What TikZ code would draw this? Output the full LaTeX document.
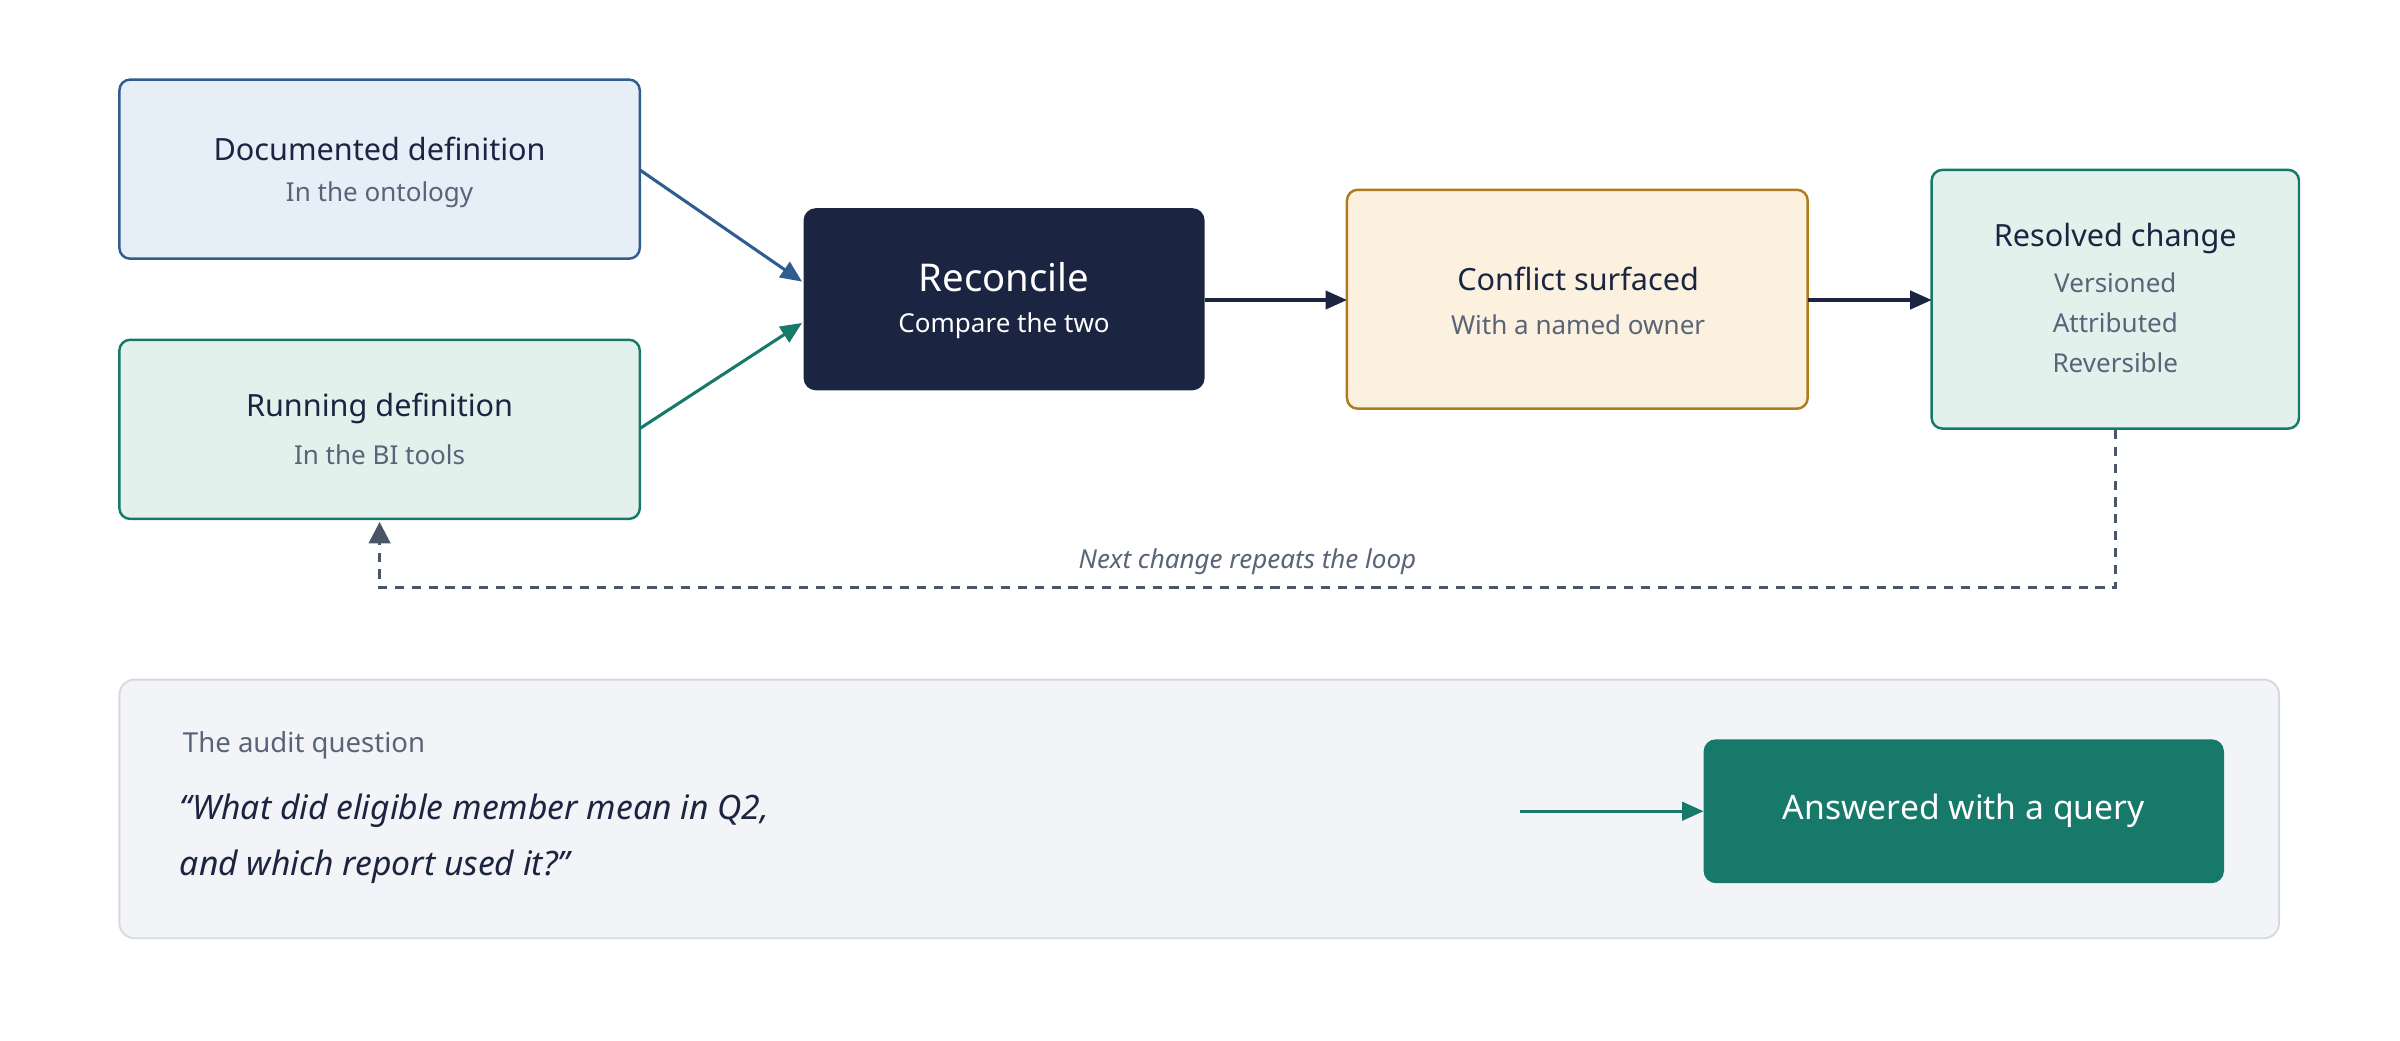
\documentclass[tikz,border=0pt]{standalone}
\usepackage{fontspec}
\setmainfont{Noto Sans}
\usetikzlibrary{arrows.meta}
\definecolor{ink}{HTML}{1B2440}
\definecolor{sub}{HTML}{5A6478}
\definecolor{blueS}{HTML}{2F5D8F}
\definecolor{blueF}{HTML}{E6EEF7}
\definecolor{teal}{HTML}{17796A}
\definecolor{tealF}{HTML}{E3F1EC}
\definecolor{amber}{HTML}{B07A1E}
\definecolor{amberF}{HTML}{FBF1DE}
\definecolor{panel}{HTML}{F3F4F7}
\definecolor{panelS}{HTML}{D5D9E0}
\definecolor{loopc}{HTML}{4A5568}
\begin{document}
\begin{tikzpicture}[x=1pt,y=-1pt,
 box/.style={rounded corners=7pt,line width=1.6pt},
 ttl/.style={font=\fontsize{20}{24}\selectfont\bfseries,text=ink},
 st/.style={font=\fontsize{17}{20}\selectfont,text=sub},
 arr/.style={line width=2pt,-{Triangle[length=14pt,width=12pt]}}]
\useasboundingbox (0,0) rectangle (1568,680);
\fill[white] (0,0) rectangle (1568,680);
% boxes
\draw[box,draw=blueS,fill=blueF] (78,52) rectangle (418,169);
\node[coordinate] (docR) at (418,111) {};
\node[ttl] (docT) at (248,97) {Documented definition};
\node[st] (docS) at (248,127) {In the ontology};
\draw[box,draw=teal,fill=tealF] (78,222) rectangle (418,339);
\node[coordinate] (runR) at (418,280) {};
\node[coordinate] (runB) at (248,341) {};
\node[ttl] (runT) at (248,267) {Running definition};
\node[st] (runS) at (248,297) {In the BI tools};
\fill[ink,rounded corners=8pt] (525,136) rectangle (787,255);
\node[coordinate] (recA) at (524,184) {};
\node[coordinate] (recB) at (524,211) {};
\node[coordinate] (recR) at (787,196) {};
\node[font=\fontsize{25}{30}\selectfont\bfseries,text=white] (recT) at (656,181) {Reconcile};
\node[font=\fontsize{17}{20}\selectfont,text=white] (recS) at (656,213) {Compare the two};
\draw[box,draw=amber,fill=amberF] (880,124) rectangle (1181,267);
\node[coordinate] (conL) at (880,196) {};
\node[coordinate] (conR) at (1181,196) {};
\node[ttl] (conT) at (1031,182) {Conflict surfaced};
\node[st] (conS) at (1031,212) {With a named owner};
\draw[box,draw=teal,fill=tealF] (1262,111) rectangle (1502,280);
\node[coordinate] (resL) at (1262,196) {};
\node[coordinate] (resB) at (1382,281) {};
\node[ttl] (resT) at (1382,156) {Resolved change};
\node[st] (r1) at (1382,185) {Versioned};
\node[st] (r2) at (1382,211) {Attributed};
\node[st] (r3) at (1382,237) {Reversible};
% arrows
\draw[arr,blueS] (docR) -- (recA);
\draw[arr,teal] (runR) -- (recB);
\draw[arr,ink] (recR) -- (conL);
\draw[arr,ink] (conR) -- (resL);
\draw[line width=2pt,loopc,dash pattern=on 6pt off 5pt,-{Triangle[length=14pt,width=14pt]}] (resB) -- (1382,384) -- (248,384) -- (runB);
\node[font=\fontsize{17}{20}\selectfont\itshape,text=sub] (loopL) at (815,367) {Next change repeats the loop};
% panel
\draw[rounded corners=10pt,line width=1.2pt,draw=panelS,fill=panel] (78,444) rectangle (1489,613);
\node[anchor=west,font=\fontsize{18}{22}\selectfont\bfseries,text=sub] (aq) at (116,487) {The audit question};
\node[anchor=west,font=\fontsize{22}{26}\selectfont\bfseries\itshape,text=ink] (q1) at (114,530) {“What did eligible member mean in Q2,};
\node[anchor=west,font=\fontsize{22}{26}\selectfont\bfseries\itshape,text=ink] (q2) at (114,566) {and which report used it?”};
\fill[teal,rounded corners=8pt] (1113,483) rectangle (1453,577);
\node[font=\fontsize{22}{26}\selectfont\bfseries,text=white] (ans) at (1283,530) {Answered with a query};
\node[coordinate] (aS) at (993,530) {};
\node[coordinate] (aE) at (1113,530) {};
\draw[arr,teal] (aS) -- (aE);
\end{tikzpicture}
\end{document}
